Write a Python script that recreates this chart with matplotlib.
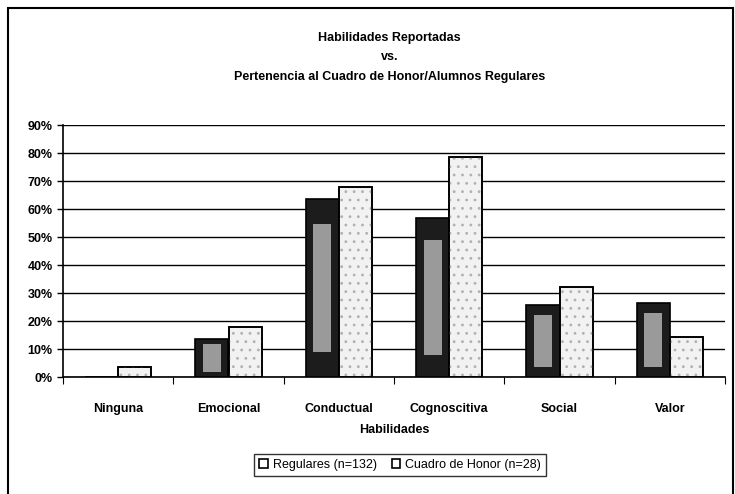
import numpy as np
import matplotlib.pyplot as plt
from matplotlib.patches import Rectangle
from matplotlib.ticker import PercentFormatter

plt.rcParams['font.family'] = ['Liberation Sans', 'DejaVu Sans']
plt.rcParams['hatch.linewidth'] = 0.8

categorias = ['Ninguna', 'Emocional', 'Conductual', 'Cognoscitiva', 'Social', 'Valor']
regulares = [0.0, 13.6, 63.6, 56.8, 25.8, 26.5]
cuadro_honor = [3.6, 17.9, 67.9, 78.6, 32.1, 14.3]
etiquetas = ['Regulares (n=132)', 'Cuadro de Honor (n=28)']

W, H = 735, 494
fig = plt.figure(figsize=(W / 100, H / 100), dpi=100)
ax = fig.add_axes([63 / W, 1 - 377 / H, 662 / W, 252 / H])

# marco exterior del grafico
fig.patches.append(Rectangle((8 / W, -0.05), 725 / W, 1 - 8 / H + 0.05,
                             transform=fig.transFigure, fill=False,
                             edgecolor='black', linewidth=1.5))

x = np.arange(len(categorias))
w = 0.3
reg = np.array(regulares)
ax.bar(x - w / 2, reg, w, color='#1c1c1c', edgecolor='black',
       linewidth=1.2, label=etiquetas[0], zorder=3)
# centro gris (efecto degradado del original)
ax.bar(x - w / 2, reg * 0.72, w * 0.55, bottom=reg * 0.14, color='#9a9a9a',
       edgecolor='none', hatch='....', zorder=3)
ax.bar(x + w / 2, cuadro_honor, w, color='#f2f2f2', edgecolor='black',
       linewidth=1.2, label=etiquetas[1], zorder=3)
# puntitos en las barras claras
ax.bar(x + w / 2, cuadro_honor, w, color='none', edgecolor='#b0b0b0',
       hatch='..', linewidth=0, zorder=3)
ax.bar(x + w / 2, cuadro_honor, w, color='none', edgecolor='black',
       linewidth=1.2, zorder=4)

ax.set_xlim(-0.5, len(categorias) - 0.5)
ax.set_ylim(0, 90)
ax.set_yticks(np.arange(0, 91, 10))
ax.yaxis.set_major_formatter(PercentFormatter(decimals=0))
ax.set_xticks(np.arange(len(categorias) + 1) - 0.5, minor=False)
ax.set_xticklabels([])
ax.set_xticks(x, minor=True)
ax.set_xticklabels(categorias, minor=True, fontsize=9, fontweight='bold')
ax.tick_params(axis='x', which='minor', length=0, pad=19)
ax.tick_params(axis='x', which='major', length=5, direction='out')
ax.tick_params(axis='y', length=4, labelsize=9, width=1)
for t in ax.get_yticklabels():
    t.set_fontweight('bold')

ax.grid(axis='y', color='black', linewidth=1, zorder=0)
for s in ['top', 'right']:
    ax.spines[s].set_visible(False)
ax.spines['left'].set_linewidth(1.2)
ax.spines['bottom'].set_linewidth(1.2)

ax.set_xlabel('Habilidades', fontsize=9, fontweight='bold', labelpad=6)

fig.text(0.53, 1 - 38 / H, 'Habilidades Reportadas', ha='center', va='center',
         fontsize=9, fontweight='bold')
fig.text(0.53, 1 - 57 / H, 'vs.', ha='center', va='center',
         fontsize=9, fontweight='bold')
fig.text(0.53, 1 - 77 / H, 'Pertenencia al Cuadro de Honor/Alumnos Regulares',
         ha='center', va='center', fontsize=9, fontweight='bold')

leg = ax.legend(loc='center', bbox_to_anchor=(400 / W, 1 - 465 / H),
                bbox_transform=fig.transFigure, ncol=2, fontsize=9,
                frameon=True, fancybox=False, edgecolor='black',
                handlelength=0.7, handleheight=0.7, columnspacing=1.2,
                handletextpad=0.4, borderpad=0.4)
leg.get_frame().set_linewidth(1)
for h in leg.legend_handles:
    h.set_facecolor('white')
    h.set_hatch(None)

fig.savefig('out.png', dpi=100)
